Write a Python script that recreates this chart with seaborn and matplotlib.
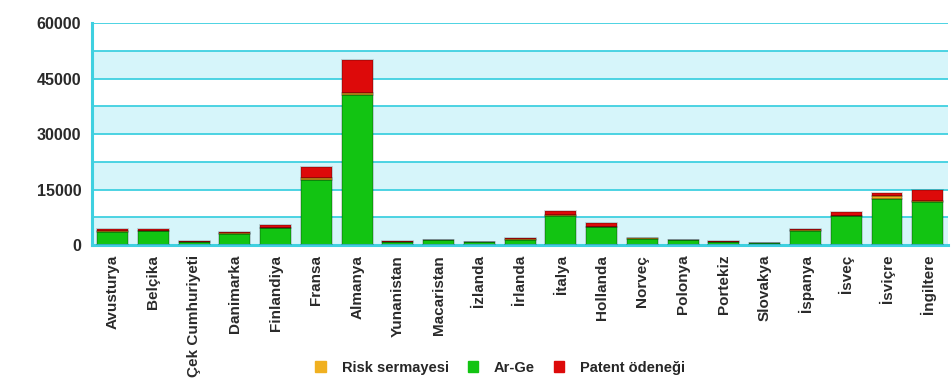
import matplotlib
matplotlib.use("Agg")
import matplotlib.pyplot as plt
import seaborn as sns
import pandas as pd
import numpy as np
from matplotlib.patches import Patch

countries = ["Avusturya", "Belçika", "Çek Cumhuriyeti", "Danimarka", "Finlandiya",
             "Fransa", "Almanya", "Yunanistan", "Macaristan", "İzlanda", "İrlanda",
             "İtalya", "Hollanda", "Norveç", "Polonya", "Portekiz", "Slovakya",
             "İspanya", "İsveç", "İsviçre", "İngiltere"]
arge = [3600, 3700, 800, 3000, 4500, 17500, 40500, 900, 1300, 800, 1500,
        8000, 4800, 1700, 1300, 900, 600, 3900, 7800, 12500, 11600]
risk = [150, 150, 50, 150, 150, 700, 600, 50, 50, 30, 100,
        150, 200, 100, 50, 50, 30, 100, 200, 700, 300]
patent = [550, 450, 150, 450, 650, 3000, 8800, 150, 150, 70, 200,
          1100, 850, 200, 150, 150, 70, 300, 1000, 900, 3000]
yticks = [0, 15000, 30000, 45000, 60000]
legend_labels = ["Risk sermayesi", "Ar-Ge", "Patent ödeneği"]

df = pd.DataFrame({"ulke": countries, "arge": arge, "risk": risk, "patent": patent})

sns.set_style("white")
plt.rcParams["font.family"] = ["Liberation Sans", "DejaVu Sans"]

cyan = "#3fd0e0"
band = "#d6f5fa"
c_green = "#12c412"
c_risk = "#f0b020"
c_red = "#dd0a0a"
txt = "#2a2a2a"

fig = plt.figure(figsize=(9.51, 3.83), dpi=100)
ax = fig.add_axes([0.097, 0.36, 0.9, 0.58])

# alternating horizontal bands with grid lines
for lo in np.arange(0, 60000, 7500):
    if int(lo // 7500) % 2 == 0:
        ax.axhspan(lo, lo + 7500, color=band, zorder=0, lw=0)
    ax.axhline(lo, color=cyan, lw=1.3, zorder=0.5)
ax.axhline(60000, color=cyan, lw=1.3, zorder=0.5)

bar_kw = dict(width=0.76, linewidth=0, zorder=2, ax=ax)
sns.barplot(data=df, x="ulke", y="arge", color=c_green, saturation=1, **bar_kw)
bottom1 = df["arge"].values
sns.barplot(data=df.assign(v=df["risk"]), x="ulke", y="v", color=c_risk,
            saturation=1, bottom=bottom1, **bar_kw)
bottom2 = bottom1 + df["risk"].values
sns.barplot(data=df.assign(v=df["patent"]), x="ulke", y="v", color=c_red,
            saturation=1, bottom=bottom2, **bar_kw)

# darker outline on each bar segment
for cont in ax.containers:
    for p in cont.patches:
        ax.add_patch(plt.Rectangle((p.get_x(), p.get_y()), p.get_width(), p.get_height(),
                                   fill=False, edgecolor=(0, 0, 0, 0.2), lw=1.2, zorder=3))

ax.set_xlim(-0.5, len(countries) - 0.5)
ax.set_ylim(0, 60000)
ax.set_yticks(yticks)
ax.set_yticklabels([str(v) for v in yticks], fontsize=11.5, fontweight="bold", color=txt)
ax.set_xlabel("")
ax.set_ylabel("")
ax.set_xticks(range(len(countries)))
ax.set_xticklabels(countries, rotation=90, fontsize=11, fontweight="bold",
                   color=txt, va="top")
ax.tick_params(axis="x", length=0, pad=7)
ax.tick_params(axis="y", length=5, width=1.5, color=cyan, pad=3)

# minor ticks at category boundaries
ax.set_xticks(np.arange(-0.5, len(countries)), minor=True)
ax.tick_params(axis="x", which="minor", length=4, width=1.5, color=cyan)

for side in ["top", "right"]:
    ax.spines[side].set_visible(False)
for side in ["left", "bottom"]:
    ax.spines[side].set_color(cyan)
    ax.spines[side].set_linewidth(2.2)

handles = [Patch(color=c_risk), Patch(color=c_green), Patch(color=c_red)]
fig.legend(handles, legend_labels, loc="center", bbox_to_anchor=(0.526, 0.04),
           ncol=3, frameon=False, handlelength=0.7, handleheight=0.7,
           columnspacing=1.3, handletextpad=1.1,
           prop={"weight": "bold", "size": 10.5})

fig.savefig("out.png", dpi=100, facecolor="white")
